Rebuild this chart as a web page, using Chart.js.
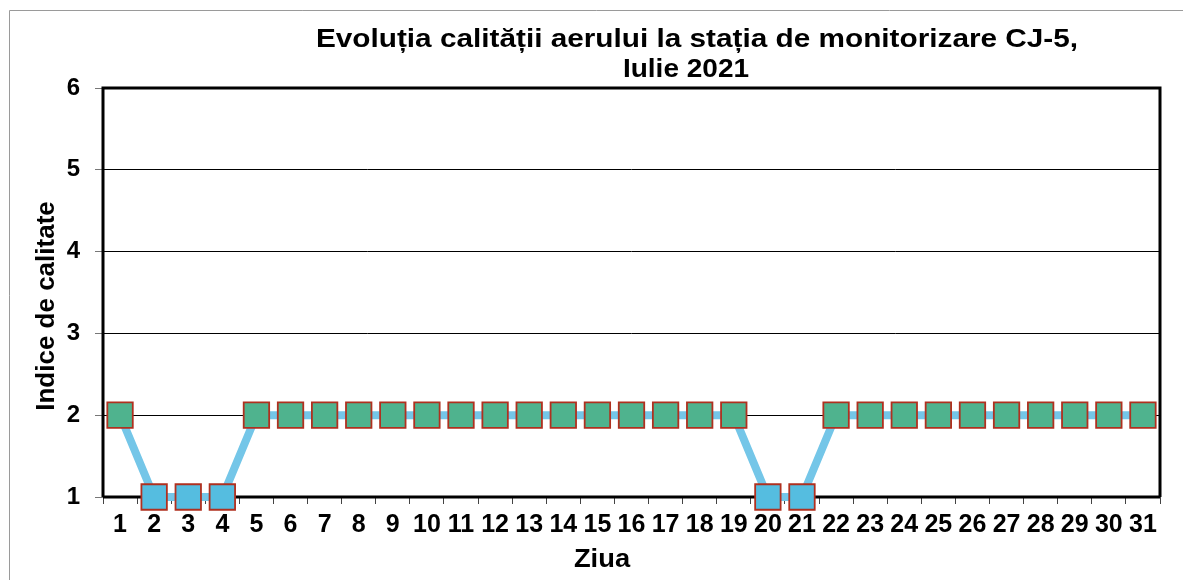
<!DOCTYPE html>
<html>
<head>
<meta charset="utf-8">
<script src="https://cdn.jsdelivr.net/npm/chart.js@4/dist/chart.umd.min.js"></script>
<style>
  html, body { margin: 0; padding: 0; background: #fff; }
  #wrap { width: 1183px; height: 580px; }
</style>
</head>
<body>
<div id="wrap"><canvas id="myChart" width="1183" height="580"></canvas></div>
<script>
const days = ['1','2','3','4','5','6','7','8','9','10','11','12','13','14','15','16','17','18','19','20','21','22','23','24','25','26','27','28','29','30','31']
const indice = [2,1,1,1,2,2,2,2,2,2,2,2,2,2,2,2,2,2,2,1,1,2,2,2,2,2,2,2,2,2,2]
const titleLines = ['Evoluția calității aerului la stația de monitorizare CJ-5,', 'Iulie 2021']
const yTitle = 'Indice de calitate'
const xTitle = 'Ziua'

const FONT = 'Liberation Sans, Arial, sans-serif'

// stretched text, like the scanned original
function wideText(ctx, txt, x, y, sx){
    ctx.save()
    ctx.translate(x, y)
    ctx.scale(sx, 1)
    ctx.fillText(txt, 0, 0)
    ctx.restore()
}

// frame around the plot + outer border + titles
const decor = {
    id: 'decor',
    beforeDraw(chart){
        const ctx = chart.ctx
        ctx.save()
        ctx.strokeStyle = '#9a9a9a'
        ctx.lineWidth = 1
        ctx.beginPath()
        ctx.moveTo(9.5, 580)
        ctx.lineTo(9.5, 10.5)
        ctx.lineTo(1183, 10.5)
        ctx.stroke()
        ctx.restore()
    },
    beforeDatasetsDraw(chart){
        const ctx = chart.ctx
        const a = chart.chartArea
        ctx.save()
        ctx.strokeStyle = '#000'
        ctx.lineWidth = 3
        ctx.beginPath()
        ctx.moveTo(a.left, a.bottom)
        ctx.lineTo(a.left, a.top)
        ctx.lineTo(a.right, a.top)
        ctx.lineTo(a.right, a.bottom)
        ctx.stroke()
        ctx.beginPath()
        ctx.moveTo(a.left, a.bottom)
        ctx.lineTo(a.right, a.bottom)
        ctx.stroke()

        ctx.fillStyle = '#000'
        ctx.textAlign = 'center'
        ctx.textBaseline = 'alphabetic'
        ctx.font = 'bold 25px ' + FONT
        wideText(ctx, titleLines[0], 697, 47, 1.19)
        wideText(ctx, titleLines[1], 686, 77, 1.12)

        // axis titles
        ctx.font = 'bold 26px ' + FONT
        wideText(ctx, xTitle, 602, 567, 1.05)
        ctx.save()
        ctx.translate(54, 306)
        ctx.rotate(-Math.PI / 2)
        ctx.fillText(yTitle, 0, 0)
        ctx.restore()
        ctx.restore()
    }
}

new Chart('myChart', {
    type: 'line',
    data: {
        labels: days,
        datasets: [{
            data: indice,
            borderColor: '#74c6e8',
            borderWidth: 8,
            pointStyle: 'rect',
            pointRadius: 18,
            pointHoverRadius: 18,
            pointBorderColor: '#b0301f',
            pointBorderWidth: 1.8,
            pointBackgroundColor: c => (indice[c.dataIndex] == 1 ? '#55bde0' : '#4fb38e'),
            clip: false,
            tension: 0
        }]
    },
    options: {
        responsive: false,
        animation: false,
        layout: { padding: { left: 20, top: 88, right: 23, bottom: 6 } },
        plugins: {
            legend: { display: false },
            tooltip: { enabled: false }
        },
        scales: {
            x: {
                offset: true,
                grid: {
                    offset: true,
                    drawOnChartArea: false,
                    drawTicks: true,
                    tickLength: 7,
                    color: '#444',
                    lineWidth: 1
                },
                border: { display: false },
                ticks: {
                    color: '#000',
                    font: { family: FONT, size: 25, weight: 'bold' },
                    padding: 6,
                    maxRotation: 0,
                    autoSkip: false
                },
                afterFit: s => { s.height = 580 - 497 - 6 }
            },
            y: {
                min: 1,
                max: 6,
                ticks: {
                    stepSize: 1,
                    color: '#000',
                    font: { family: FONT, size: 24, weight: 'bold' },
                    padding: 15
                },
                grid: {
                    color: '#000',
                    lineWidth: 1,
                    tickLength: 8,
                    tickColor: '#777'
                },
                border: { display: false },
                afterFit: s => { s.width = 103 - 20 }
            }
        }
    },
    plugins: [decor]
})
</script>
</body>
</html>
